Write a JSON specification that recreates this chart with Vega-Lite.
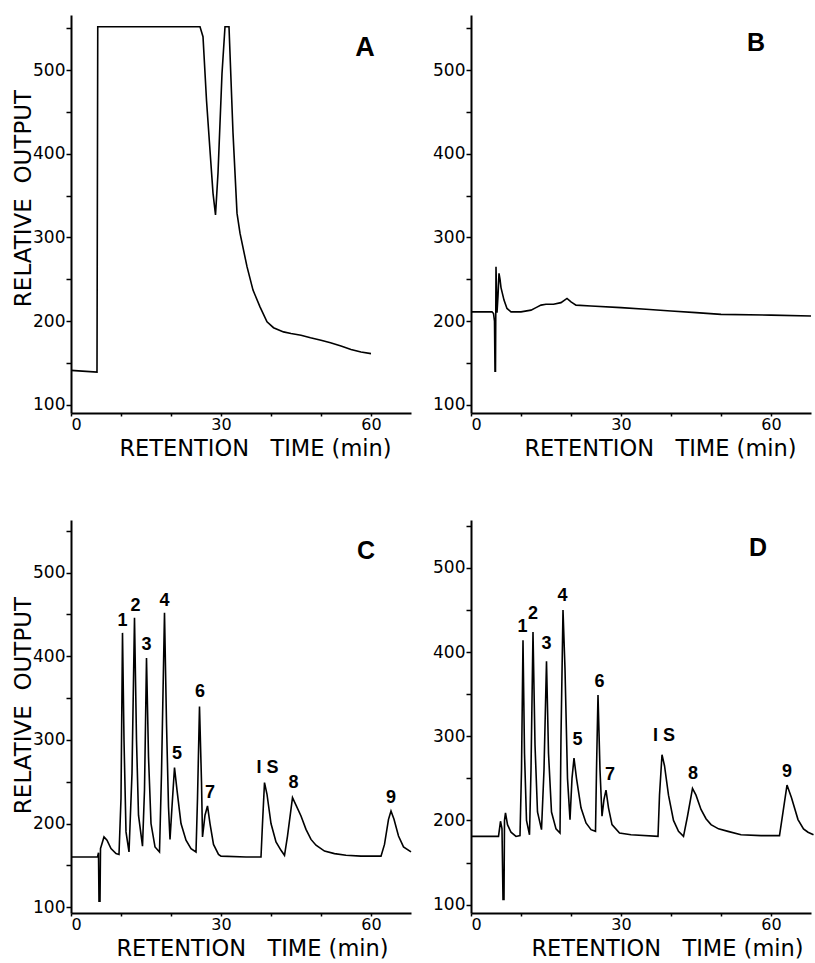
{
  "$schema": "https://vega.github.io/schema/vega-lite/v6.json",
  "background": "white",
  "padding": {"left": 12, "top": 15, "right": 4, "bottom": 5},
  "bounds": "flush",
  "columns": 2,
  "spacing": {"row": 107, "column": 60},
  "resolve": {"scale": {"x": "independent", "y": "independent"}, "axis": {"x": "independent", "y": "independent"}},
  "config": {
    "font": "DejaVu Sans",
    "view": {"stroke": null},
    "axis": {
      "grid": false,
      "domainColor": "black",
      "domainWidth": 2,
      "tickColor": "black",
      "tickWidth": 1.5,
      "labelFont": "DejaVu Sans",
      "labelFontSize": 17,
      "labelColor": "black",
      "titleFont": "DejaVu Sans",
      "titleFontSize": 22.5,
      "titleFontWeight": "normal",
      "titleColor": "black"
    },
    "axisX": {"labelFontSize": 16, "labelPadding": 0, "tickSize": 3, "titlePadding": 5}
  },
  "datasets": {
    "traceA": [
      {"t": 0, "v": 141}, {"t": 5.2, "v": 139}, {"t": 5.35, "v": 552}, {"t": 25.8, "v": 552},
      {"t": 26.4, "v": 540}, {"t": 27.1, "v": 464}, {"t": 27.8, "v": 404}, {"t": 28.4, "v": 353},
      {"t": 28.9, "v": 327}, {"t": 29.4, "v": 377}, {"t": 30.2, "v": 496}, {"t": 30.8, "v": 552},
      {"t": 31.6, "v": 552}, {"t": 32.4, "v": 425}, {"t": 33.2, "v": 329}, {"t": 33.8, "v": 305},
      {"t": 35.2, "v": 265}, {"t": 36.4, "v": 237}, {"t": 37.8, "v": 217}, {"t": 39.2, "v": 199},
      {"t": 40.5, "v": 192}, {"t": 42.5, "v": 187}, {"t": 44, "v": 185}, {"t": 46, "v": 183},
      {"t": 47.9, "v": 180}, {"t": 50, "v": 177}, {"t": 51.9, "v": 174}, {"t": 54, "v": 170},
      {"t": 56, "v": 166}, {"t": 58, "v": 163}, {"t": 60, "v": 161}
    ],
    "traceB": [
      {"t": 0, "v": 211}, {"t": 4.2, "v": 211}, {"t": 4.5, "v": 209}, {"t": 4.7, "v": 200},
      {"t": 4.8, "v": 140}, {"t": 4.9, "v": 140}, {"t": 5.0, "v": 265}, {"t": 5.2, "v": 210},
      {"t": 5.4, "v": 230}, {"t": 5.6, "v": 257}, {"t": 5.8, "v": 250}, {"t": 6.0, "v": 240},
      {"t": 6.6, "v": 225}, {"t": 7.2, "v": 215}, {"t": 8, "v": 211}, {"t": 10, "v": 211},
      {"t": 12, "v": 213}, {"t": 13, "v": 216}, {"t": 14, "v": 219}, {"t": 15, "v": 220},
      {"t": 16.5, "v": 220}, {"t": 18, "v": 222}, {"t": 19.2, "v": 227}, {"t": 20, "v": 223},
      {"t": 21, "v": 219}, {"t": 24, "v": 218}, {"t": 30, "v": 216}, {"t": 35, "v": 214},
      {"t": 40, "v": 212}, {"t": 45, "v": 210}, {"t": 50, "v": 208}, {"t": 60, "v": 207},
      {"t": 68, "v": 206}
    ],
    "traceC": [
      {"t": 0, "v": 160}, {"t": 5.3, "v": 160}, {"t": 5.5, "v": 165}, {"t": 5.6, "v": 107},
      {"t": 5.8, "v": 107}, {"t": 5.9, "v": 170}, {"t": 6.6, "v": 184}, {"t": 7.2, "v": 180},
      {"t": 8, "v": 170}, {"t": 9, "v": 164}, {"t": 9.6, "v": 163}, {"t": 10.0, "v": 230},
      {"t": 10.3, "v": 428}, {"t": 10.6, "v": 300}, {"t": 11.0, "v": 190}, {"t": 11.6, "v": 166},
      {"t": 12.2, "v": 260}, {"t": 12.7, "v": 446}, {"t": 13.1, "v": 300}, {"t": 13.5, "v": 210},
      {"t": 14.3, "v": 173}, {"t": 14.7, "v": 240}, {"t": 15.1, "v": 398}, {"t": 15.5, "v": 280},
      {"t": 16.0, "v": 200}, {"t": 16.8, "v": 172}, {"t": 17.7, "v": 166}, {"t": 18.1, "v": 260},
      {"t": 18.7, "v": 452}, {"t": 19.1, "v": 320}, {"t": 19.5, "v": 220}, {"t": 19.8, "v": 181},
      {"t": 20.2, "v": 220}, {"t": 20.7, "v": 267}, {"t": 21.2, "v": 240}, {"t": 22, "v": 200},
      {"t": 23, "v": 180}, {"t": 24, "v": 170}, {"t": 25, "v": 166}, {"t": 25.3, "v": 230},
      {"t": 25.7, "v": 340}, {"t": 26.1, "v": 250}, {"t": 26.3, "v": 184}, {"t": 26.8, "v": 210},
      {"t": 27.3, "v": 221}, {"t": 27.8, "v": 200}, {"t": 28.5, "v": 175}, {"t": 29.5, "v": 163},
      {"t": 30, "v": 161}, {"t": 35, "v": 160}, {"t": 38, "v": 160}, {"t": 38.3, "v": 200},
      {"t": 38.7, "v": 249}, {"t": 39.2, "v": 235}, {"t": 40, "v": 200}, {"t": 41, "v": 178},
      {"t": 42, "v": 168}, {"t": 42.7, "v": 162}, {"t": 43.3, "v": 185}, {"t": 44.3, "v": 231},
      {"t": 45, "v": 222}, {"t": 46, "v": 209}, {"t": 47, "v": 193}, {"t": 48, "v": 181},
      {"t": 49, "v": 174}, {"t": 50.7, "v": 167}, {"t": 52.7, "v": 164}, {"t": 55, "v": 162},
      {"t": 58, "v": 161}, {"t": 62, "v": 161}, {"t": 62.7, "v": 175}, {"t": 63.5, "v": 205},
      {"t": 64, "v": 215}, {"t": 64.6, "v": 205}, {"t": 65.5, "v": 185}, {"t": 66.5, "v": 172},
      {"t": 68, "v": 166}
    ],
    "traceD": [
      {"t": 0, "v": 181}, {"t": 5.5, "v": 181}, {"t": 5.7, "v": 190}, {"t": 5.9, "v": 199},
      {"t": 6.2, "v": 190}, {"t": 6.4, "v": 106}, {"t": 6.6, "v": 106}, {"t": 6.7, "v": 200},
      {"t": 6.9, "v": 209}, {"t": 7.3, "v": 195}, {"t": 8, "v": 186}, {"t": 9, "v": 181},
      {"t": 9.8, "v": 182}, {"t": 10.1, "v": 260}, {"t": 10.4, "v": 414}, {"t": 10.7, "v": 280},
      {"t": 11.1, "v": 200}, {"t": 11.7, "v": 183}, {"t": 12.0, "v": 260}, {"t": 12.4, "v": 424},
      {"t": 12.8, "v": 290}, {"t": 13.3, "v": 210}, {"t": 14.1, "v": 189}, {"t": 14.6, "v": 260},
      {"t": 15.1, "v": 389}, {"t": 15.5, "v": 280}, {"t": 16.1, "v": 210}, {"t": 17, "v": 190},
      {"t": 17.8, "v": 185}, {"t": 18.0, "v": 300}, {"t": 18.4, "v": 450}, {"t": 18.8, "v": 380},
      {"t": 19.3, "v": 250}, {"t": 19.8, "v": 201}, {"t": 20.2, "v": 250}, {"t": 20.6, "v": 274},
      {"t": 21.1, "v": 250}, {"t": 22, "v": 215}, {"t": 23, "v": 197}, {"t": 24, "v": 189},
      {"t": 24.9, "v": 187}, {"t": 25.1, "v": 260}, {"t": 25.4, "v": 349}, {"t": 25.8, "v": 260},
      {"t": 26.2, "v": 205}, {"t": 26.6, "v": 225}, {"t": 27.0, "v": 236}, {"t": 27.5, "v": 215},
      {"t": 28.2, "v": 195}, {"t": 29.7, "v": 185}, {"t": 32, "v": 183}, {"t": 37.4, "v": 181},
      {"t": 37.7, "v": 230}, {"t": 38.2, "v": 278}, {"t": 38.7, "v": 265}, {"t": 39.5, "v": 230},
      {"t": 40.5, "v": 200}, {"t": 41.5, "v": 187}, {"t": 42.5, "v": 181}, {"t": 43.3, "v": 205},
      {"t": 44.3, "v": 238}, {"t": 45, "v": 230}, {"t": 46, "v": 213}, {"t": 47, "v": 202},
      {"t": 48, "v": 195}, {"t": 49.5, "v": 190}, {"t": 51.4, "v": 187}, {"t": 54, "v": 183},
      {"t": 58, "v": 182}, {"t": 61.7, "v": 182}, {"t": 62.4, "v": 210}, {"t": 63.2, "v": 242},
      {"t": 64.1, "v": 227}, {"t": 65.4, "v": 201}, {"t": 66.5, "v": 190}, {"t": 67.4, "v": 186},
      {"t": 68.5, "v": 183}
    ],
    "labelsA": [{"t": 58.8, "v": 527, "label": "A"}],
    "labelsB": [{"t": 57, "v": 532, "label": "B"}],
    "lettersC": [{"t": 59, "v": 526, "label": "C"}],
    "lettersD": [{"t": 57.4, "v": 524, "label": "D"}],
    "peaksC": [
      {"t": 10.3, "v": 442, "label": "1"}, {"t": 12.9, "v": 460, "label": "2"},
      {"t": 15.1, "v": 413, "label": "3"}, {"t": 18.7, "v": 466, "label": "4"},
      {"t": 21.2, "v": 283, "label": "5"}, {"t": 25.8, "v": 357, "label": "6"},
      {"t": 27.8, "v": 237, "label": "7"}, {"t": 39.3, "v": 267, "label": "I S"},
      {"t": 44.5, "v": 249, "label": "8"}, {"t": 64, "v": 230, "label": "9"}
    ],
    "peaksD": [
      {"t": 10.3, "v": 430, "label": "1"}, {"t": 12.4, "v": 445, "label": "2"},
      {"t": 15.1, "v": 410, "label": "3"}, {"t": 18.3, "v": 467, "label": "4"},
      {"t": 21.3, "v": 296, "label": "5"}, {"t": 25.7, "v": 365, "label": "6"},
      {"t": 27.8, "v": 254, "label": "7"}, {"t": 38.6, "v": 300, "label": "I S"},
      {"t": 44.4, "v": 255, "label": "8"}, {"t": 63.2, "v": 257, "label": "9"}
    ]
  },
  "concat": [
    {
      "width": 340, "height": 398,
      "encoding": {
        "x": {"field": "t", "type": "quantitative", "scale": {"domain": [0, 68], "nice": false, "zero": false},
              "axis": {"values": [0, 10, 20, 30, 40, 50, 60], "labelExpr": "datum.value % 30 === 0 ? datum.label : ''", "title": "RETENTION\u00a0\u00a0\u00a0TIME (min)", "titleX": 184}},
        "y": {"field": "v", "type": "quantitative", "scale": {"domain": [90, 566], "nice": false, "zero": false},
              "axis": {"values": [100, 150, 200, 250, 300, 350, 400, 450, 500, 550], "labelExpr": "datum.value % 100 === 0 ? datum.label : ''", "tickSize": 5, "labelPadding": 1, "titlePadding": -3, "title": "RELATIVE\u00a0\u00a0OUTPUT", "titleFontSize": 23, "titleY": 183}}
      },
      "layer": [
        {"data": {"name": "traceA"}, "mark": {"type": "line", "color": "black", "strokeWidth": 1.6}},
        {"data": {"name": "labelsA"}, "mark": {"type": "text", "font": "Liberation Sans", "fontWeight": "bold", "fontSize": 27, "color": "black", "align": "center", "baseline": "middle"}, "encoding": {"text": {"field": "label"}}}
      ]
    },
    {
      "width": 340, "height": 398,
      "encoding": {
        "x": {"field": "t", "type": "quantitative", "scale": {"domain": [0, 68], "nice": false, "zero": false},
              "axis": {"values": [0, 10, 20, 30, 40, 50, 60], "labelExpr": "datum.value % 30 === 0 ? datum.label : ''", "title": "RETENTION\u00a0\u00a0\u00a0TIME (min)", "titleX": 189}},
        "y": {"field": "v", "type": "quantitative", "scale": {"domain": [90, 566], "nice": false, "zero": false},
              "axis": {"values": [100, 150, 200, 250, 300, 350, 400, 450, 500, 550], "labelExpr": "datum.value % 100 === 0 ? datum.label : ''", "tickSize": 5, "labelPadding": 1, "title": null}}
      },
      "layer": [
        {"data": {"name": "traceB"}, "mark": {"type": "line", "color": "black", "strokeWidth": 1.6}},
        {"data": {"name": "labelsB"}, "mark": {"type": "text", "font": "Liberation Sans", "fontWeight": "bold", "fontSize": 25, "color": "black", "align": "center", "baseline": "middle"}, "encoding": {"text": {"field": "label"}}}
      ]
    },
    {
      "width": 340, "height": 393,
      "encoding": {
        "x": {"field": "t", "type": "quantitative", "scale": {"domain": [0, 68], "nice": false, "zero": false},
              "axis": {"values": [0, 10, 20, 30, 40, 50, 60], "labelExpr": "datum.value % 30 === 0 ? datum.label : ''", "title": "RETENTION\u00a0\u00a0\u00a0TIME (min)", "titleX": 181}},
        "y": {"field": "v", "type": "quantitative", "scale": {"domain": [93, 563], "nice": false, "zero": false},
              "axis": {"values": [100, 150, 200, 250, 300, 350, 400, 450, 500, 550], "labelExpr": "datum.value % 100 === 0 ? datum.label : ''", "tickSize": 5, "labelPadding": 1, "titlePadding": -3, "title": "RELATIVE\u00a0\u00a0OUTPUT", "titleFontSize": 23, "titleY": 185}}
      },
      "layer": [
        {"data": {"name": "traceC"}, "mark": {"type": "line", "color": "black", "strokeWidth": 1.6}},
        {"data": {"name": "peaksC"}, "mark": {"type": "text", "font": "Liberation Sans", "fontWeight": "bold", "fontSize": 18, "color": "black", "align": "center", "baseline": "middle"}, "encoding": {"text": {"field": "label"}}},
        {"data": {"name": "lettersC"}, "mark": {"type": "text", "font": "Liberation Sans", "fontWeight": "bold", "fontSize": 25, "color": "black", "align": "center", "baseline": "middle"}, "encoding": {"text": {"field": "label"}}}
      ]
    },
    {
      "width": 340, "height": 393,
      "encoding": {
        "x": {"field": "t", "type": "quantitative", "scale": {"domain": [0, 68], "nice": false, "zero": false},
              "axis": {"values": [0, 10, 20, 30, 40, 50, 60], "labelExpr": "datum.value % 30 === 0 ? datum.label : ''", "title": "RETENTION\u00a0\u00a0\u00a0TIME (min)", "titleX": 196}},
        "y": {"field": "v", "type": "quantitative", "scale": {"domain": [90, 557], "nice": false, "zero": false},
              "axis": {"values": [100, 150, 200, 250, 300, 350, 400, 450, 500, 550], "labelExpr": "datum.value % 100 === 0 ? datum.label : ''", "tickSize": 5, "labelPadding": 1, "title": null}}
      },
      "layer": [
        {"data": {"name": "traceD"}, "mark": {"type": "line", "color": "black", "strokeWidth": 1.6}},
        {"data": {"name": "peaksD"}, "mark": {"type": "text", "font": "Liberation Sans", "fontWeight": "bold", "fontSize": 18, "color": "black", "align": "center", "baseline": "middle"}, "encoding": {"text": {"field": "label"}}},
        {"data": {"name": "lettersD"}, "mark": {"type": "text", "font": "Liberation Sans", "fontWeight": "bold", "fontSize": 25, "color": "black", "align": "center", "baseline": "middle"}, "encoding": {"text": {"field": "label"}}}
      ]
    }
  ]
}
